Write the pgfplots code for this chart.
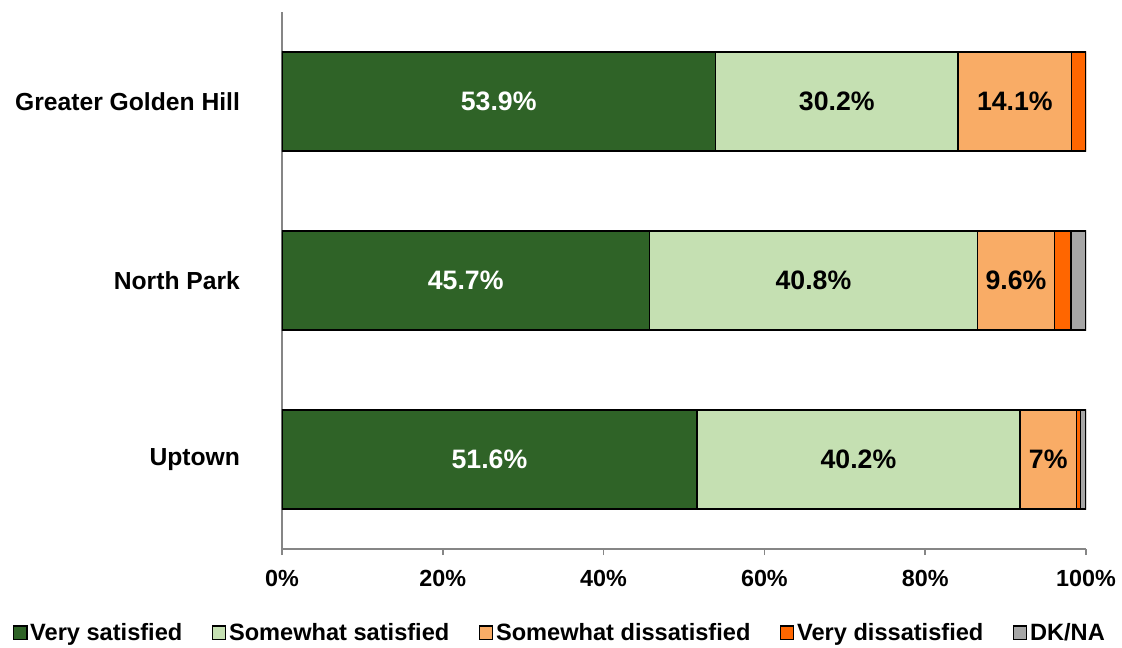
\documentclass[border=0pt]{standalone}
\usepackage{pgfplots}
\usepackage{pgfplotstable}
\pgfplotsset{compat=1.18}
\usepackage{fontspec}
\setmainfont{Liberation Sans}

\definecolor{vsat}{RGB}{47,99,39}
\definecolor{ssat}{RGB}{197,224,178}
\definecolor{sdis}{RGB}{249,172,102}
\definecolor{vdis}{RGB}{255,102,0}
\definecolor{dkna}{RGB}{166,166,166}
\definecolor{axgray}{RGB}{134,134,134}

% y: 0 = Uptown, 1 = North Park, 2 = Greater Golden Hill
\pgfplotstableread{
y vs ss sd vd dk
0 51.6 40.2 7.0 0.5 0.7
1 45.7 40.8 9.6 2.0 1.9
2 53.9 30.2 14.1 1.8 0.0
}\survey

\begin{document}
\begin{tikzpicture}
\begin{axis}[
    xbar stacked,
    scale only axis,
    width=603pt, height=402.75pt,
    bar width=0.55,
    xmin=0, xmax=100,
    ymin=-0.5, ymax=2.5,
    axis x line*=bottom,
    axis y line*=left,
    axis line style={axgray, line width=1.3pt},
    xtick={0,20,...,100},
    xticklabel={\pgfmathprintnumber{\tick}\%},
    ytick={0,1,2},
    yticklabels={Uptown, North Park, Greater Golden Hill},
    minor ytick={-0.5,0.5,1.5,2.5},
    major tick length=4.5pt,
    minor tick length=4.5pt,
    tick align=outside,
    every tick/.style={axgray, line width=1.3pt},
    ytick style={draw=none},
    minor y tick style={axgray, line width=1.3pt},
    /pgf/number format/assume math mode=true,
    tick label style={font=\fontsize{17.5pt}{20pt}\selectfont\bfseries},
    yticklabel style={font=\fontsize{18.5pt}{22pt}\selectfont\bfseries, xshift=-23.5pt},
    xticklabel style={yshift=-8pt},
    point meta=explicit,
    nodes near coords={\pgfmathprintnumber{\pgfplotspointmeta}\%},
    every node near coord/.append style={font=\fontsize{20pt}{24pt}\selectfont\bfseries, anchor=center},
    legend columns=5,
    legend style={draw=none, fill=none, at={(0.346,-0.156)}, anchor=center,
        font=\fontsize{17.7pt}{20pt}\selectfont\bfseries,
        /tikz/every even column/.append style={column sep=20pt}},
    legend image code/.code={\draw[#1, draw=black, line width=1pt] (0pt,-5pt) rectangle (10pt,5pt);},
]
\addplot[fill=vsat, draw=black, line width=1.2pt,
    every node near coord/.append style={text=white}]
    table[x=vs, y=y, meta=vs] {\survey};
\addplot[fill=ssat, draw=black, line width=1.2pt,
    every node near coord/.append style={text=black}]
    table[x=ss, y=y, meta=ss] {\survey};
\addplot[fill=sdis, draw=black, line width=1.2pt,
    every node near coord/.append style={text=black}]
    table[x=sd, y=y, meta=sd] {\survey};
\addplot[fill=vdis, draw=black, line width=1.2pt, nodes near coords={}]
    table[x=vd, y=y, meta=vd] {\survey};
\addplot[fill=dkna, draw=black, line width=1.2pt, nodes near coords={}]
    table[x=dk, y=y, meta=dk] {\survey};
\legend{Very satisfied, Somewhat satisfied, Somewhat dissatisfied, Very dissatisfied, DK/NA}
\end{axis}
\path (current axis.south west) +(-211.5pt,-72pt) (current axis.north east) +(27pt,9pt);
\end{tikzpicture}
\end{document}
